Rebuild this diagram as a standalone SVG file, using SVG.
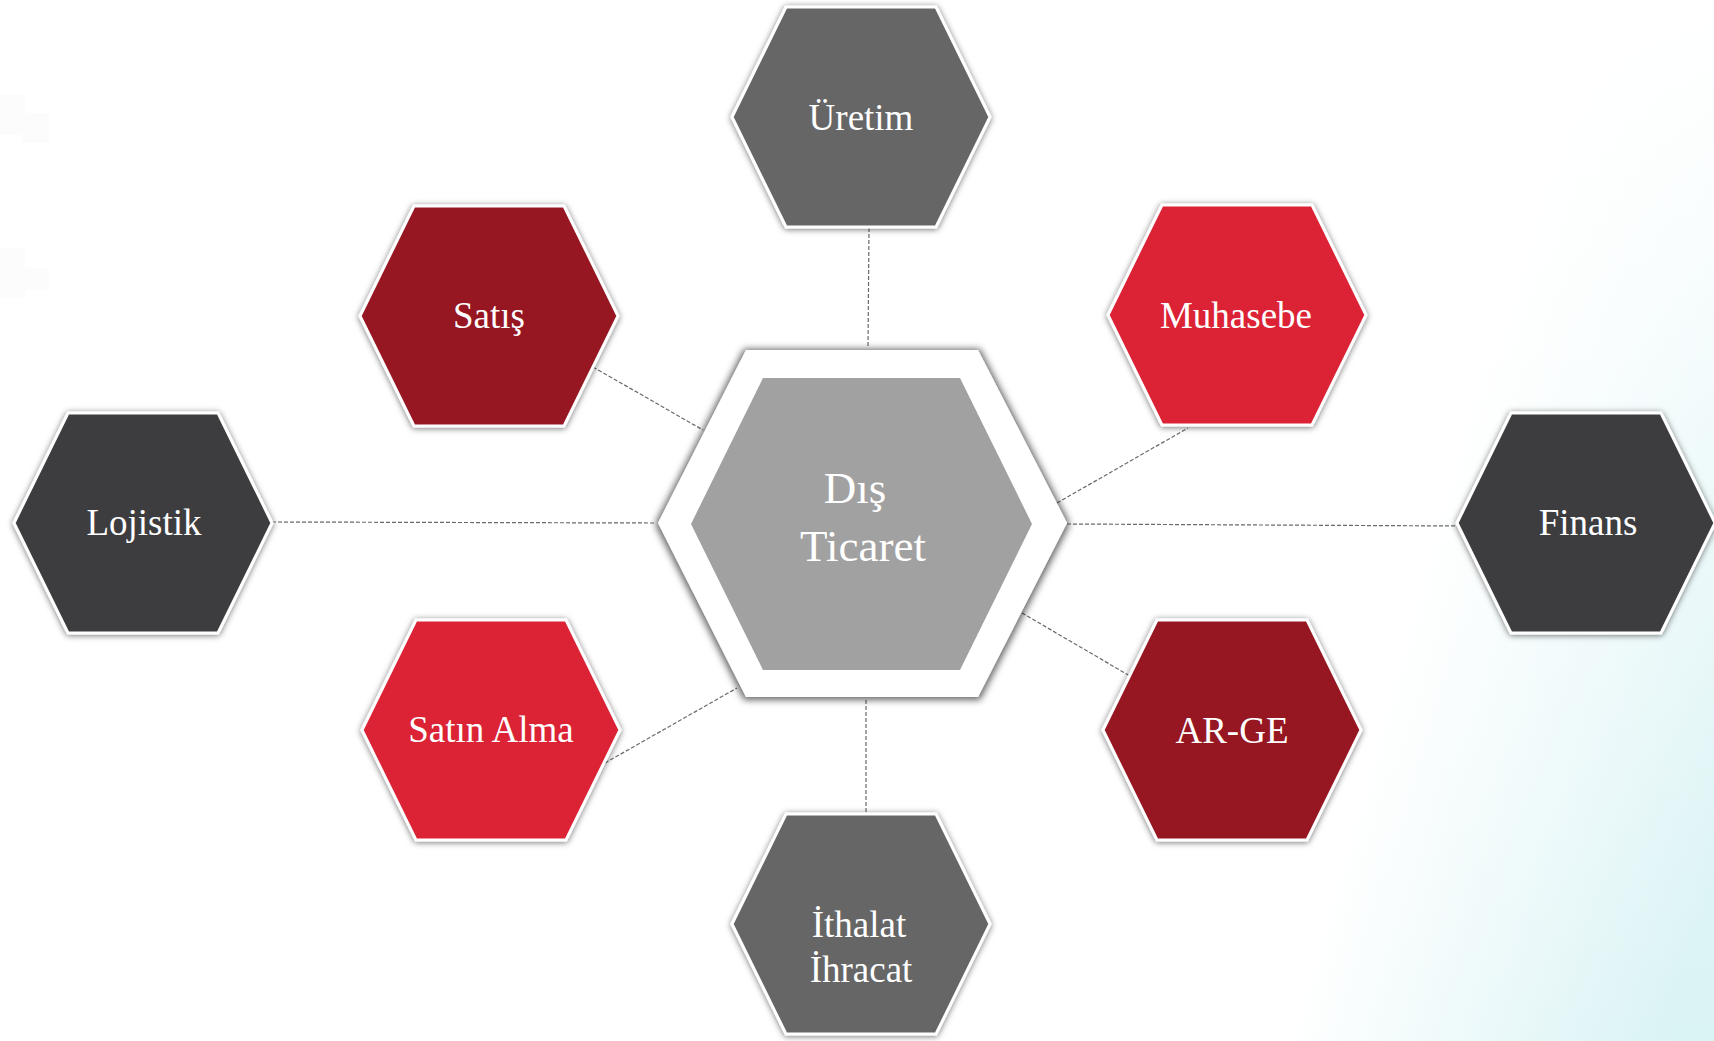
<svg xmlns="http://www.w3.org/2000/svg" width="1714" height="1041" viewBox="0 0 1714 1041">
  <defs>
    <linearGradient id="bgTint" gradientUnits="userSpaceOnUse" x1="1360" y1="780" x2="1714" y2="880">
      <stop offset="0" stop-color="#ffffff"/>
      <stop offset="1" stop-color="#daf3f5"/>
    </linearGradient>
    <linearGradient id="bgFade" gradientUnits="userSpaceOnUse" x1="0" y1="0" x2="0" y2="1041">
      <stop offset="0" stop-color="#ffffff" stop-opacity="1"/>
      <stop offset="0.45" stop-color="#ffffff" stop-opacity="0.35"/>
      <stop offset="1" stop-color="#ffffff" stop-opacity="0"/>
    </linearGradient>
    <filter id="hexShadow" x="-10%" y="-10%" width="120%" height="120%">
      <feDropShadow dx="0" dy="1" stdDeviation="3" flood-color="#000" flood-opacity="0.55"/>
    </filter>
    <filter id="coreShadow" x="-10%" y="-10%" width="120%" height="120%">
      <feMorphology in="SourceAlpha" operator="dilate" radius="2" result="grow"/>
      <feGaussianBlur in="grow" stdDeviation="3.5" result="soft"/>
      <feOffset in="soft" dx="0" dy="1" result="moved"/>
      <feFlood flood-color="#000" flood-opacity="0.6"/>
      <feComposite in2="moved" operator="in" result="shade"/>
      <feMerge>
        <feMergeNode in="shade"/>
        <feMergeNode in="SourceGraphic"/>
      </feMerge>
    </filter>
    <!-- standard satellite hexagon, centred on the origin -->
    <polygon id="hex" points="-129,0 -75,-110 75,-110 129,0 75,110 -75,110"/>
  </defs>
  <style>
    .node use { stroke: #ffffff; stroke-width: 3; filter: url(#hexShadow); }
    .gray use { fill: #666666; }
    .dark use { fill: #3e3e40; }
    .wine use { fill: #961924; }
    .red use { fill: #dc2236; }
    .label { font-family: "Liberation Serif", "Times New Roman", serif; font-size: 37px; fill: #ffffff; text-anchor: middle; }
    .core-label { font-size: 45px; }
    .link { stroke: #6a6a6a; stroke-width: 1.2; stroke-dasharray: 4 2; fill: none; }
  </style>

  <!-- background -->
  <rect width="1714" height="1041" fill="#ffffff"/>
  <rect width="1714" height="1041" fill="url(#bgTint)"/>
  <rect x="1200" width="514" height="1041" fill="url(#bgFade)"/>
  <g fill="#fcfcfc">
    <rect x="0" y="95" width="25" height="40"/>
    <rect x="22" y="113" width="27" height="30"/>
    <rect x="0" y="248" width="25" height="50"/>
    <rect x="22" y="268" width="27" height="22"/>
  </g>

  <!-- connectors -->
  <g id="connectors">
    <line class="link" x1="869" y1="228" x2="868" y2="348"/>
    <line class="link" x1="593" y1="367" x2="703" y2="430"/>
    <line class="link" x1="1057" y1="503" x2="1188" y2="428"/>
    <line class="link" x1="272" y1="522" x2="656" y2="523"/>
    <line class="link" x1="1067" y1="524" x2="1460" y2="526"/>
    <line class="link" x1="605" y1="763" x2="737" y2="688"/>
    <line class="link" x1="1022" y1="613" x2="1130" y2="676"/>
    <line class="link" x1="866" y1="700" x2="866" y2="813"/>
  </g>

  <!-- central node -->
  <g id="node-dis-ticaret">
    <polygon points="658,523 746,350 978,350 1067,523 978,697 746,697" fill="#ffffff" filter="url(#coreShadow)"/>
    <polygon points="691,524 763,378 960,378 1032,524 960,670 763,670" fill="#a1a1a1"/>
    <text class="label core-label" x="855" y="503">Dış</text>
    <text class="label core-label" x="863" y="561">Ticaret</text>
  </g>

  <g id="node-uretim" class="node gray">
    <use href="#hex" x="861" y="117"/>
    <text class="label" x="861" y="130">Üretim</text>
  </g>

  <g id="node-satis" class="node wine">
    <use href="#hex" x="489" y="316"/>
    <text class="label" x="489" y="328">Satış</text>
  </g>

  <g id="node-muhasebe" class="node red">
    <use href="#hex" x="1237" y="315"/>
    <text class="label" x="1236" y="328">Muhasebe</text>
  </g>

  <g id="node-lojistik" class="node dark">
    <use href="#hex" x="143" y="523"/>
    <text class="label" x="144" y="535">Lojistik</text>
  </g>

  <g id="node-finans" class="node dark">
    <use href="#hex" x="1586" y="523"/>
    <text class="label" x="1588" y="535">Finans</text>
  </g>

  <g id="node-satin-alma" class="node red">
    <use href="#hex" x="491" y="730"/>
    <text class="label" x="491" y="742">Satın Alma</text>
  </g>

  <g id="node-ar-ge" class="node wine">
    <use href="#hex" x="1232" y="730"/>
    <text class="label" x="1232" y="743">AR-GE</text>
  </g>

  <g id="node-ithalat-ihracat" class="node gray">
    <use href="#hex" x="861" y="924"/>
    <text class="label" x="859" y="937">İthalat</text>
    <text class="label" x="861" y="982">İhracat</text>
  </g>
</svg>
